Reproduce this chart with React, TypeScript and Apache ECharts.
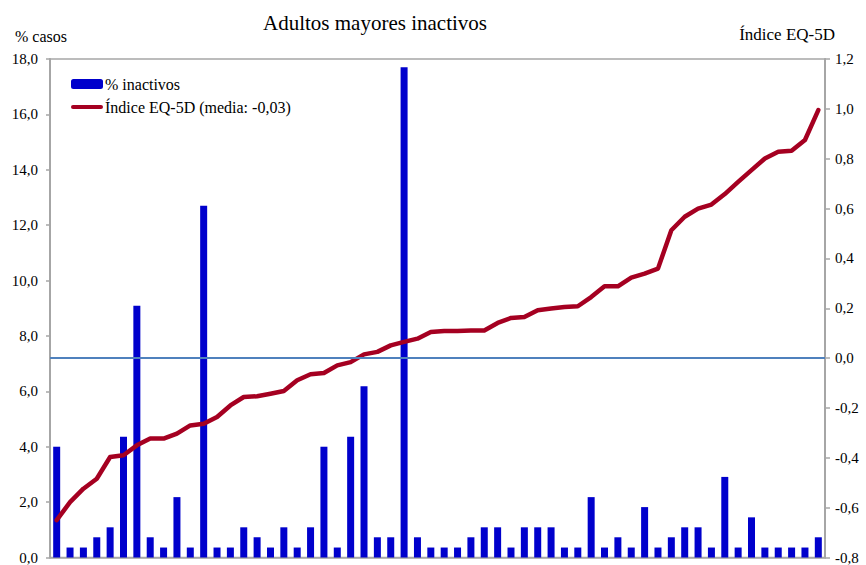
import React, { useEffect, useRef } from "react";
import * as echarts from "echarts";

const categories: string[] = Array.from({ length: 58 }, (_, i) => String(i + 1));

const inactivos: number[] = [
  4.0, 0.36, 0.36, 0.73, 1.09, 4.36, 9.09, 0.73, 0.36, 2.18,
  0.36, 12.7, 0.36, 0.36, 1.09, 0.73, 0.36, 1.09, 0.36, 1.09,
  4.0, 0.36, 4.36, 6.18, 0.73, 0.73, 17.7, 0.73, 0.36, 0.36,
  0.36, 0.73, 1.09, 1.09, 0.36, 1.09, 1.09, 1.09, 0.36, 0.36,
  2.18, 0.36, 0.73, 0.36, 1.82, 0.36, 0.73, 1.09, 1.09, 0.36,
  2.91, 0.36, 1.45, 0.36, 0.36, 0.36, 0.36, 0.73,
];

const eq5d: number[] = [
  -0.65, -0.578, -0.524, -0.484, -0.397, -0.39, -0.35, -0.323, -0.323, -0.303,
  -0.27, -0.263, -0.236, -0.19, -0.156, -0.153, -0.143, -0.132, -0.089, -0.065,
  -0.06, -0.029, -0.016, 0.015, 0.025, 0.051, 0.065, 0.078, 0.105, 0.109,
  0.109, 0.111, 0.111, 0.141, 0.161, 0.165, 0.192, 0.199, 0.205, 0.208,
  0.245, 0.288, 0.288, 0.323, 0.339, 0.359, 0.513, 0.567, 0.6, 0.616,
  0.658, 0.707, 0.754, 0.801, 0.828, 0.832, 0.875, 0.995,
];

const seriesBarName = "% inactivos";
const seriesLineName = "Índice EQ-5D (media: -0,03)";
const titleText = "Adultos mayores inactivos";
const leftAxisTitle = "% casos";
const rightAxisTitle = "Índice EQ-5D";

const FONT = "Liberation Serif";

const fmt = (v: number) => {
  const x = Math.abs(v) < 1e-9 ? 0 : v;
  return x.toFixed(1).replace(".", ",");
};

export default function App() {
  const ref = useRef<HTMLDivElement>(null);
  useEffect(() => {
    if (!ref.current) return;
    const chart = echarts.init(ref.current, undefined, { renderer: "svg" });
    chart.setOption({
      animation: false,
      backgroundColor: "#ffffff",
      textStyle: { fontFamily: FONT },
      graphic: [
        {
          type: "text",
          x: 375,
          y: 23,
          style: {
            text: titleText,
            fontFamily: FONT,
            fontSize: 21,
            fill: "#000",
            textAlign: "center",
            textVerticalAlign: "middle",
          },
        },
        {
          type: "text",
          x: 15,
          y: 36,
          style: {
            text: leftAxisTitle,
            fontFamily: FONT,
            fontSize: 16,
            fill: "#000",
            textAlign: "left",
            textVerticalAlign: "middle",
          },
        },
        {
          type: "text",
          x: 835,
          y: 34,
          style: {
            text: rightAxisTitle,
            fontFamily: FONT,
            fontSize: 17,
            fill: "#000",
            textAlign: "right",
            textVerticalAlign: "middle",
          },
        },
      ],
      legend: {
        orient: "vertical",
        left: 66,
        top: 71,
        itemWidth: 32,
        itemHeight: 10,
        itemGap: 7,
        symbolKeepAspect: true,
        textStyle: { fontFamily: FONT, fontSize: 16, color: "#000", padding: [0, 0, 0, -3] },
        data: [
          { name: seriesBarName, icon: "roundRect" },
          { name: seriesLineName, icon: "path://M2,0 L30,0 A2,2 0 0 1 30,4 L2,4 A2,2 0 0 1 2,0 Z" },
        ],
      },
      grid: {
        left: 50,
        right: 41,
        top: 59,
        bottom: 7,
        show: true,
        borderColor: "#a6a6a6",
        borderWidth: 1.5,
        containLabel: false,
      },
      xAxis: {
        type: "category",
        data: categories,
        boundaryGap: true,
        axisLine: { show: true, lineStyle: { color: "#a6a6a6", width: 1.5 } },
        axisTick: { show: false },
        axisLabel: { show: false },
        splitLine: { show: false },
      },
      yAxis: [
        {
          type: "value",
          min: 0,
          max: 18,
          interval: 2,
          position: "left",
          axisLine: { show: true, lineStyle: { color: "#a6a6a6", width: 2 } },
          axisTick: { show: true, inside: false, length: 4, lineStyle: { color: "#a6a6a6", width: 1.5 } },
          axisLabel: {
            formatter: fmt,
            margin: 12,
            fontFamily: FONT,
            fontSize: 15,
            color: "#000",
          },
          splitLine: { show: false },
        },
        {
          type: "value",
          min: -0.8,
          max: 1.2,
          interval: 0.2,
          position: "right",
          axisLine: { show: true, lineStyle: { color: "#a6a6a6", width: 2 } },
          axisTick: { show: true, inside: false, length: 5, lineStyle: { color: "#a6a6a6", width: 1.5 } },
          axisLabel: {
            formatter: fmt,
            margin: 10,
            fontFamily: FONT,
            fontSize: 15,
            color: "#000",
          },
          splitLine: { show: false },
        },
      ],
      series: [
        {
          name: seriesBarName,
          type: "bar",
          yAxisIndex: 0,
          data: inactivos,
          barWidth: 7,
          itemStyle: { color: "#0000cc" },
        },
        {
          name: seriesLineName,
          type: "line",
          yAxisIndex: 1,
          data: eq5d,
          symbol: "none",
          smooth: false,
          lineStyle: { color: "#a50021", width: 4.5, cap: "round", join: "round" },
          itemStyle: { color: "#a50021" },
          markLine: {
            silent: true,
            symbol: ["none", "none"],
            label: { show: false },
            lineStyle: { color: "#4f81bd", width: 2, type: "solid" },
            data: [{ yAxis: 0 }],
          },
          z: 3,
        },
      ],
    });
    return () => chart.dispose();
  }, []);
  return <div ref={ref} style={{ width: 866, height: 565, position: "absolute", left: 0, top: 0 }} />;
}
